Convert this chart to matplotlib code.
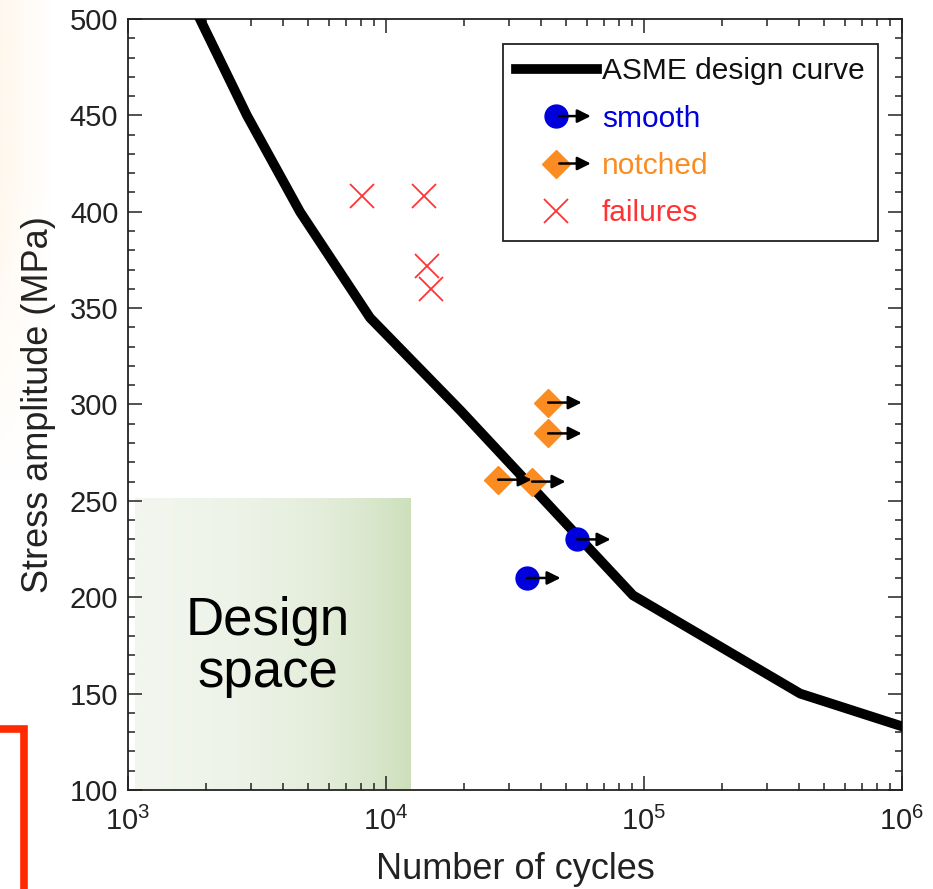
import numpy as np
import matplotlib
matplotlib.use("Agg")
import matplotlib.pyplot as plt
from matplotlib.lines import Line2D
from matplotlib.patches import FancyArrowPatch
from matplotlib.legend_handler import HandlerBase
from matplotlib.ticker import MultipleLocator, LogLocator

plt.rcParams['font.family'] = ['Liberation Sans', 'DejaVu Sans']
plt.rcParams['mathtext.default'] = 'regular'

# ASME design curve
asme_n = [1900, 2890, 4640, 8670, 19400, 90600, 403000, 1000000]
asme_s = [500, 450, 400, 345, 297, 201, 150, 133]

# run-outs, smooth specimens
smooth_n = [55000, 35200]
smooth_s = [230, 210]

# run-outs, notched specimens
notched_n = [42500, 42500, 27200, 36800]
notched_s = [301, 285, 261, 260]

# failures
fail_n = [8070, 14000, 14400, 14900]
fail_s = [408, 408, 372, 360]

blue = '#0000dd'
orange = '#fb8c22'
red = '#ff3333'


class ArrowHandler(HandlerBase):
    # marker with a little runout arrow pointing right
    def create_artists(self, legend, orig_handle, xdescent, ydescent,
                       width, height, fontsize, trans):
        cx = width / 2 - xdescent
        cy = height / 2 - ydescent
        mk = Line2D([cx], [cy], marker=orig_handle.get_marker(),
                    ms=orig_handle.get_markersize(),
                    color=orig_handle.get_color(), ls='none', transform=trans)
        arr = FancyArrowPatch((cx, cy), (cx + 0.46 * width, cy),
                              arrowstyle='-|>', mutation_scale=20,
                              color='k', lw=1.8, transform=trans)
        return [mk, arr]


fig = plt.figure(figsize=(9.33, 8.89), dpi=100)
ax = fig.add_axes([0.1372, 0.1114, 0.8296, 0.8672])

# faint warm glow on the left edge
glow = fig.add_axes([0, 0.45, 0.055, 0.55], zorder=-5)
gx = np.linspace(1, 0, 40)[None, :]
gy = np.linspace(0, 1, 60)[:, None]
alpha = 0.35 * gx * np.clip(gy * 1.6, 0, 1)
rgba = np.zeros((60, 40, 4))
rgba[..., 0] = 1.0
rgba[..., 1] = 0.92
rgba[..., 2] = 0.80
rgba[..., 3] = alpha
glow.imshow(rgba, aspect='auto', extent=(0, 1, 0, 1), origin='lower',
            interpolation='bilinear')
glow.axis('off')

# red bracket at the bottom left
fig.add_artist(Line2D([0, 24 / 933, 24 / 933], [1 - 729 / 889, 1 - 729 / 889, 0],
                      color='#ff2a00', lw=5.5, solid_joinstyle='miter',
                      transform=fig.transFigure))

ax.set_xscale('log')
ax.set_xlim(1e3, 1e6)
ax.set_ylim(100, 500)

# design space box with green gradient
grad = np.linspace(0, 1, 200)[None, :]
c0 = np.array([0.95, 0.965, 0.935])
c1 = np.array([0.80, 0.875, 0.73])
img = c0[None, None, :] * (1 - grad[..., None]) + c1[None, None, :] * grad[..., None]
ax.imshow(img, extent=(1060, 12500, 100.5, 252), aspect='auto', zorder=0,
          interpolation='bilinear')
ax.text(3490, 174, 'Design\nspace', fontsize=38, ha='center', va='center',
        linespacing=1.05, zorder=1)

line_asme, = ax.plot(asme_n, asme_s, color='k', lw=7, solid_joinstyle='round',
                     zorder=3, label='ASME design curve')
line_sm, = ax.plot(smooth_n, smooth_s, 'o', color=blue, ms=16.5, ls='none',
                   zorder=4, label='smooth')
line_no, = ax.plot(notched_n, notched_s, 'D', color=orange, ms=14, ls='none',
                   zorder=4, label='notched')
line_fa, = ax.plot(fail_n, fail_s, 'x', color=red, ms=17, mew=1.3, ls='none',
                   zorder=4, label='failures')

for n, s in list(zip(smooth_n, smooth_s)) + list(zip(notched_n, notched_s)):
    ax.annotate('', xy=(n * 10 ** 0.13, s), xytext=(n, s),
                arrowprops=dict(arrowstyle='-|>', mutation_scale=20,
                                color='k', lw=1.8, shrinkA=0, shrinkB=0),
                zorder=5)

ax.xaxis.set_major_locator(LogLocator(base=10, numticks=10))
ax.xaxis.set_minor_locator(LogLocator(base=10, subs=np.arange(2, 10), numticks=20))
ax.yaxis.set_major_locator(MultipleLocator(50))
ax.yaxis.set_minor_locator(MultipleLocator(10))
ax.tick_params(which='both', direction='in', top=True, right=True,
               labelsize=21, width=1.1, colors='#222222')
ax.tick_params(which='major', length=10)
ax.tick_params(which='minor', length=5)
ax.tick_params(axis='y', which='major', pad=7)
ax.tick_params(axis='x', which='major', pad=12)
for sp in ax.spines.values():
    sp.set_linewidth(1.3)
    sp.set_color('#222222')

ax.set_xlabel('Number of cycles', fontsize=26, labelpad=12, color='#222222')
ax.set_ylabel('Stress amplitude (MPa)', fontsize=26, labelpad=10, color='#222222')

leg = ax.legend(handles=[line_asme, line_sm, line_no, line_fa],
                handler_map={line_sm: ArrowHandler(), line_no: ArrowHandler()},
                labelcolor=['#111111', blue, orange, red],
                loc='upper right', bbox_to_anchor=(0.969, 0.968), borderaxespad=0,
                fontsize=21.5, handlelength=2.7, handletextpad=0.17,
                labelspacing=0.65, fancybox=False, framealpha=1,
                edgecolor='#222222', borderpad=0.45)
leg.get_frame().set_linewidth(1.3)

fig.savefig('out.png', dpi=100)
